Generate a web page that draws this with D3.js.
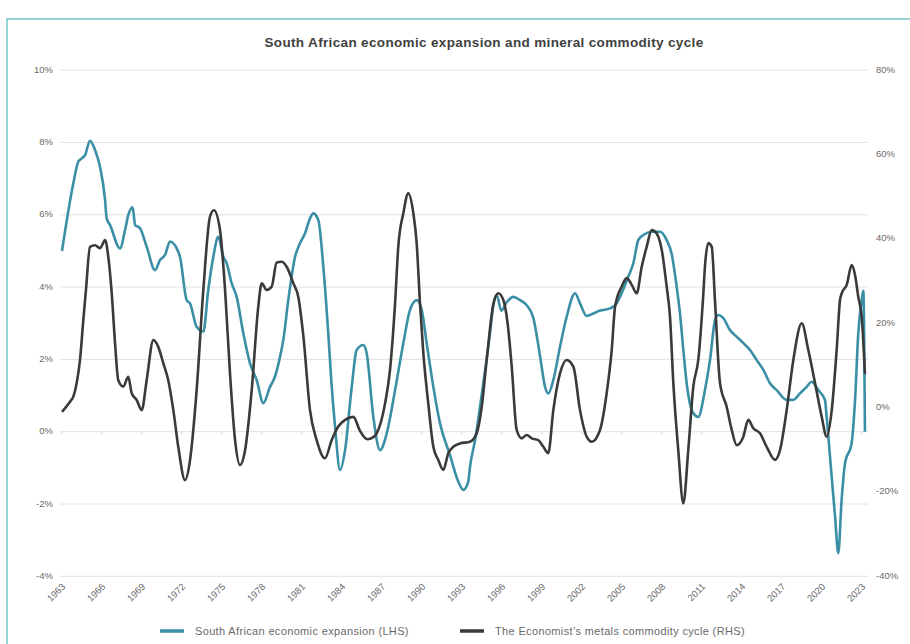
<!DOCTYPE html>
<html>
<head>
<meta charset="utf-8">
<script src="https://cdn.jsdelivr.net/npm/d3@7"></script>
<style>
  html, body { margin: 0; padding: 0; background: #ffffff; }
  svg { display: block; font-family: "Liberation Sans", Arial, sans-serif; }
</style>
</head>
<body>
<svg id="chart" width="910" height="644"></svg>
<script>
// South African economic expansion (LHS, %), [year, value]
const expansion = [
  [1963.0, 5.0], [1963.85, 6.87], [1964.22, 7.47], [1964.48, 7.56], [1964.73, 7.65],
  [1965.1, 8.05], [1965.48, 7.79], [1965.85, 7.33], [1966.23, 6.41], [1966.35, 5.9],
  [1966.6, 5.72], [1967.35, 5.07], [1967.73, 5.58], [1967.97, 5.99], [1968.3, 6.21],
  [1968.48, 5.72], [1968.85, 5.63], [1969.35, 5.12], [1969.98, 4.47], [1970.35, 4.75],
  [1970.73, 4.89], [1971.1, 5.26], [1971.6, 5.07], [1971.85, 4.84], [1972.35, 3.64],
  [1972.6, 3.55], [1973.1, 2.9], [1973.6, 2.77], [1973.97, 3.92], [1974.35, 4.84],
  [1974.72, 5.39], [1975.1, 4.84], [1975.35, 4.66], [1975.73, 4.10], [1976.1, 3.73],
  [1976.6, 2.72], [1977.1, 1.89], [1977.6, 1.43], [1978.1, 0.79], [1978.6, 1.24],
  [1978.97, 1.52], [1979.35, 2.07], [1979.6, 2.54], [1979.97, 3.64], [1980.48, 4.84],
  [1980.85, 5.21], [1981.23, 5.49], [1981.6, 5.90], [1981.85, 6.04], [1982.22, 5.86],
  [1982.6, 4.56], [1982.97, 2.72], [1983.2, 1.4], [1983.48, 0.14], [1983.85, -1.06],
  [1984.23, -0.51], [1984.73, 1.24], [1985.1, 2.26], [1985.6, 2.40], [1985.85, 2.17],
  [1986.35, 0.41], [1986.85, -0.51], [1987.35, -0.05], [1987.98, 1.15], [1988.6, 2.45],
  [1989.1, 3.37], [1989.6, 3.64], [1989.98, 3.37], [1990.35, 2.45], [1990.85, 1.24],
  [1991.35, 0.23], [1992.1, -0.65], [1992.72, -1.38], [1993.1, -1.61], [1993.47, -1.38],
  [1993.6, -0.97], [1993.98, -0.23], [1994.6, 1.34], [1995.1, 2.72], [1995.35, 3.5],
  [1995.6, 3.78], [1995.95, 3.35], [1996.35, 3.58], [1996.85, 3.73], [1997.35, 3.64],
  [1997.85, 3.5], [1998.35, 3.15], [1998.85, 2.1], [1999.23, 1.24], [1999.47, 1.06],
  [1999.85, 1.43], [2000.35, 2.35], [2000.85, 3.18], [2001.48, 3.83], [2001.85, 3.55],
  [2002.35, 3.2], [2002.85, 3.27], [2003.35, 3.35], [2004.1, 3.41], [2004.6, 3.55],
  [2004.85, 3.73], [2005.47, 4.29], [2005.85, 4.66], [2006.22, 5.3], [2006.6, 5.44],
  [2007.22, 5.53], [2007.85, 5.53], [2008.35, 5.3], [2008.72, 4.93], [2009.1, 4.01],
  [2009.35, 3.27], [2009.6, 2.26], [2009.85, 1.34], [2010.35, 0.51], [2010.72, 0.41],
  [2011.22, 1.15], [2011.6, 1.98], [2011.98, 3.09], [2012.22, 3.23], [2012.6, 3.14],
  [2013.1, 2.81], [2013.6, 2.63], [2014.1, 2.45], [2014.6, 2.26], [2015.1, 1.98],
  [2015.6, 1.71], [2016.1, 1.34], [2016.6, 1.15], [2017.35, 0.88], [2017.85, 0.88],
  [2018.35, 1.06], [2018.85, 1.24], [2019.22, 1.38], [2019.72, 1.15], [2020.22, 0.88],
  [2020.35, 0.41], [2020.6, -0.69], [2020.98, -2.35], [2021.22, -3.36], [2021.47, -1.89],
  [2021.73, -0.87], [2022.22, -0.32], [2022.48, 0.88], [2022.72, 2.72], [2022.98, 3.64],
  [2023.1, 3.9], [2023.22, 0.0]
];

// The Economist's metals commodity cycle (RHS, %), [year, value]
const metals = [
  [1963.0, -1.0], [1963.6, 1.4], [1963.85, 2.6], [1964.1, 5.8], [1964.35, 11.3],
  [1964.6, 20.8], [1964.8, 28.0], [1965.1, 38.1], [1965.48, 38.5], [1965.85, 37.8],
  [1966.23, 39.7], [1966.47, 35.8], [1966.73, 27.1], [1966.98, 15.2], [1967.22, 6.5],
  [1967.6, 5.0], [1967.97, 7.3], [1968.23, 3.4], [1968.6, 1.8], [1968.98, -0.6],
  [1969.35, 6.5], [1969.85, 16.0], [1970.22, 14.4], [1970.6, 10.5], [1970.97, 6.5],
  [1971.35, -0.6], [1971.72, -9.3], [1972.23, -17.2], [1972.6, -12.5], [1973.1, 4.2],
  [1973.6, 27.9], [1974.1, 45.3], [1974.4, 46.8], [1974.85, 42.1], [1975.23, 27.9],
  [1975.6, 8.1], [1975.98, -7.7], [1976.35, -13.6], [1976.73, -10.1], [1977.23, 4.2],
  [1977.72, 23.9], [1977.98, 29.5], [1978.35, 27.9], [1978.73, 28.7], [1979.1, 34.4],
  [1979.48, 34.6], [1979.85, 33.4], [1980.35, 29.5], [1980.72, 26.3], [1981.1, 17.0],
  [1981.6, -0.6], [1982.1, -7.7], [1982.72, -12.0], [1983.23, -7.7], [1983.72, -4.5],
  [1984.23, -2.9], [1984.85, -2.2], [1985.35, -5.5], [1985.9, -7.5], [1986.35, -7.0],
  [1986.6, -6.1], [1987.23, 1.0], [1987.6, 8.9], [1987.98, 24.7], [1988.22, 38.1],
  [1988.6, 46.1], [1988.97, 50.8], [1989.35, 46.1], [1989.6, 39.0], [1989.85, 24.7],
  [1990.1, 12.9], [1990.47, 1.0], [1990.85, -9.3], [1991.22, -12.4], [1991.6, -14.8],
  [1991.97, -10.8], [1992.35, -9.3], [1992.85, -8.5], [1993.6, -8.1], [1994.1, -6.1],
  [1994.48, 0.2], [1994.85, 11.3], [1995.35, 24.5], [1995.72, 27.1], [1996.1, 25.5],
  [1996.4, 20.5], [1996.73, 9.7], [1997.1, -5.3], [1997.48, -7.3], [1997.85, -6.5],
  [1998.23, -7.3], [1998.72, -7.7], [1999.1, -9.3], [1999.47, -10.8], [1999.85, -0.6],
  [2000.35, 8.1], [2000.85, 11.3], [2001.35, 9.7], [2001.85, -0.6], [2002.35, -6.9],
  [2002.73, -8.1], [2003.35, -5.3], [2003.85, 3.4], [2004.23, 13.7], [2004.48, 23.9],
  [2004.98, 28.7], [2005.35, 30.7], [2005.73, 29.1], [2006.1, 27.1], [2006.48, 33.4],
  [2006.85, 38.1], [2007.23, 42.1], [2007.6, 41.3], [2007.98, 37.4], [2008.35, 28.7],
  [2008.6, 21.5], [2008.85, 5.8], [2009.22, -10.1], [2009.6, -22.7], [2009.97, -10.1],
  [2010.35, 5.0], [2010.72, 11.3], [2011.1, 27.0], [2011.22, 33.4], [2011.47, 39.0],
  [2011.73, 38.1], [2011.98, 25.0], [2012.35, 5.8], [2012.85, 0.2], [2013.23, -5.3],
  [2013.6, -8.9], [2014.1, -6.9], [2014.47, -2.9], [2014.85, -4.9], [2015.35, -6.1],
  [2015.85, -9.3], [2016.48, -12.4], [2016.85, -10.1], [2017.35, -0.6], [2017.85, 11.3],
  [2018.48, 20.0], [2018.97, 13.7], [2019.48, 5.8], [2019.98, -2.2], [2020.35, -6.9],
  [2020.73, -0.6], [2021.1, 13.7], [2021.35, 25.5], [2021.48, 27.1], [2021.85, 29.1],
  [2022.23, 33.8], [2022.48, 31.4], [2022.72, 26.3], [2022.98, 21.5], [2023.22, 8.0]
];

const yearTicks = d3.range(1963, 2024, 3);
const leftTicks = [-4, -2, 0, 2, 4, 6, 8, 10];
const rightTicks = [-40, -20, 0, 20, 40, 60, 80];

const title = "South African economic expansion and mineral commodity cycle";
const legendItems = [
  { label: "South African economic expansion (LHS)", color: "#3a8fa6" },
  { label: "The Economist\u2019s metals commodity cycle (RHS)", color: "#3a3a3a" }
];

const svg = d3.select("#chart");

// outer frame
svg.append("rect")
  .attr("x", 7).attr("y", 19).attr("width", 960).attr("height", 700)
  .attr("fill", "#ffffff").attr("stroke", "#74c6c9").attr("stroke-width", 1.5);

const plot = { left: 62, right: 866, top: 70.2, bottom: 576.3 };

const x = d3.scaleLinear().domain([1963, 2023]).range([62, 862]);
const yL = d3.scaleLinear().domain([-4, 10]).range([plot.bottom, plot.top]);
const yR = d3.scaleLinear().domain([-40, 80]).range([plot.bottom, plot.top]);

const labelFont = "'Liberation Sans', Arial, sans-serif";
const labelColor = "#6a6a6a";

// title
svg.append("text")
  .attr("x", 484).attr("y", 47)
  .attr("text-anchor", "middle")
  .attr("font-size", 13.5).attr("font-weight", "bold")
  .attr("letter-spacing", 0.35)
  .attr("fill", "#3f3f3f")
  .text(title);

// horizontal gridlines on the left-axis ticks
svg.append("g")
  .selectAll("line")
  .data(leftTicks)
  .join("line")
  .attr("x1", 60).attr("x2", 868)
  .attr("y1", d => yL(d)).attr("y2", d => yL(d))
  .attr("stroke", "#e2e2e2").attr("stroke-width", 1);

// left axis labels
const leftAxis = d3.axisLeft(yL).tickValues(leftTicks).tickSize(0).tickPadding(0)
  .tickFormat(d => d + "%");
svg.append("g")
  .attr("transform", "translate(53,-1)")
  .call(leftAxis)
  .call(g => g.select(".domain").remove())
  .call(g => g.selectAll("text").attr("font-size", 9.5).attr("fill", labelColor)
    .attr("font-family", labelFont));

// right axis labels
const rightAxis = d3.axisRight(yR).tickValues(rightTicks).tickSize(0).tickPadding(0)
  .tickFormat(d => d + "%");
svg.append("g")
  .attr("transform", "translate(876,-1)")
  .call(rightAxis)
  .call(g => g.select(".domain").remove())
  .call(g => g.selectAll("text").attr("font-size", 9.5).attr("fill", labelColor)
    .attr("font-family", labelFont));

// small category ticks along the zero line
svg.append("g")
  .selectAll("line")
  .data(yearTicks)
  .join("line")
  .attr("x1", d => x(d)).attr("x2", d => x(d))
  .attr("y1", yL(0)).attr("y2", yL(0) + 3)
  .attr("stroke", "#d6d6d6").attr("stroke-width", 1);

// rotated year labels along the bottom
svg.append("g")
  .selectAll("text")
  .data(yearTicks)
  .join("text")
  .attr("transform", d => `translate(${x(d) + 4},${plot.bottom + 11}) rotate(-45)`)
  .attr("text-anchor", "end")
  .attr("font-size", 9.5)
  .attr("fill", labelColor)
  .text(d => d);

// series lines
const lineL = d3.line().x(d => x(d[0])).y(d => yL(d[1])).curve(d3.curveMonotoneX);
const lineR = d3.line().x(d => x(d[0])).y(d => yR(d[1])).curve(d3.curveMonotoneX);

svg.append("path")
  .datum(expansion)
  .attr("d", lineL)
  .attr("fill", "none")
  .attr("stroke", legendItems[0].color)
  .attr("stroke-width", 2.6)
  .attr("stroke-linejoin", "round");

svg.append("path")
  .datum(metals)
  .attr("d", lineR)
  .attr("fill", "none")
  .attr("stroke", legendItems[1].color)
  .attr("stroke-width", 2.6)
  .attr("stroke-linejoin", "round");

// legend
const legendPos = [160, 460];
const legend = svg.append("g");
legend.selectAll("line")
  .data(legendItems)
  .join("line")
  .attr("x1", (d, i) => legendPos[i]).attr("x2", (d, i) => legendPos[i] + 24)
  .attr("y1", 631).attr("y2", 631)
  .attr("stroke", d => d.color).attr("stroke-width", 3.5);
legend.selectAll("text")
  .data(legendItems)
  .join("text")
  .attr("x", (d, i) => legendPos[i] + 35)
  .attr("y", 635)
  .attr("font-size", 11)
  .attr("letter-spacing", 0.35)
  .attr("fill", labelColor)
  .text(d => d.label);
</script>
</body>
</html>
